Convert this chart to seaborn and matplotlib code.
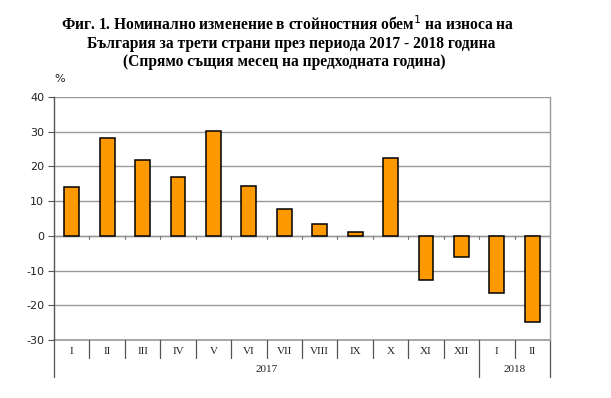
import matplotlib
matplotlib.use("Agg")
import matplotlib.pyplot as plt
import matplotlib.transforms as mtransforms
import seaborn as sns
import pandas as pd

months = ["I", "II", "III", "IV", "V", "VI", "VII", "VIII", "IX", "X", "XI", "XII", "I", "II"]
years = ["2017"] * 12 + ["2018"] * 2
values = [14.0, 28.1, 21.8, 16.9, 30.2, 14.3, 7.8, 3.3, 1.2, 22.5, -12.7, -6.2, -16.4, -24.8]
yticks = [-30, -20, -10, 0, 10, 20, 30, 40]

sns.set_theme(style="white")
plt.rcParams["font.family"] = ["DejaVu Sans"]

df = pd.DataFrame({"key": [f"{y}-{m}" for y, m in zip(years, months)], "value": values})

fig = plt.figure(figsize=(6.11, 3.98), dpi=100)
ax = fig.add_axes([54 / 611, 1 - 340 / 398, (550 - 54) / 611, (340 - 97) / 398])

sns.barplot(data=df, x="key", y="value", color="#FF9900", edgecolor="black",
            linewidth=1.1, width=0.42, saturation=1, ax=ax, zorder=3)

ax.set_xlim(-0.5, len(values) - 0.5)
ax.set_ylim(-30, 40)
ax.set_yticks(yticks)
ax.set_yticklabels([str(t) for t in yticks], fontsize=8, color="#222222")
ax.yaxis.grid(True, color="#999999", linewidth=1.0, zorder=0)
ax.axhline(0, color="#999999", linewidth=1.0, zorder=1)
ax.axhline(-30, color="#999999", linewidth=1.2, zorder=1, clip_on=False)
ax.set_xticks([])
ax.set_xlabel("")
ax.set_ylabel("")
ax.tick_params(axis="y", length=4, width=0.8, color="#555555", direction="out", left=True, pad=3)

for side in ["top", "bottom"]:
    ax.spines[side].set_visible(False)
ax.spines["left"].set_color("#555555")
ax.spines["right"].set_color("#999999")
ax.spines["left"].set_linewidth(1.0)
ax.spines["right"].set_linewidth(1.0)

# zero-line ticks at category boundaries
for i in range(1, len(values)):
    ax.plot([i - 0.5, i - 0.5], [0, -0.9], color="#777777", lw=0.8, zorder=2)

trans = mtransforms.blended_transform_factory(ax.transData, ax.transAxes)
h = 243.0
month_end = -18 / h
year_end = -37 / h
# separators
for i in range(len(values) + 1):
    x = i - 0.5
    full = i in (0, 12, len(values))
    ax.plot([x, x], [0, year_end if full else month_end], color="#555555", lw=0.9,
            transform=trans, clip_on=False)

for i, m in enumerate(months):
    ax.text(i, -12 / h, m, transform=trans, ha="center", va="center",
            fontsize=8, family="Liberation Serif", color="#222222")

ax.text(5.5, -30 / h, "2017", transform=trans, ha="center", va="center",
        fontsize=8, family="Liberation Serif", color="#222222")
ax.text(12.5, -30 / h, "2018", transform=trans, ha="center", va="center",
        fontsize=8, family="Liberation Serif", color="#222222")

title_kw = dict(ha="center", va="baseline", fontsize=11.2, fontweight="bold",
                family="Liberation Serif", color="black")
fig.text(288 / 611, 1 - 30.5 / 398,
         "Фиг. 1. Номинално изменение в стойностния обем$^{1}$ на износа на", **title_kw)
fig.text(291 / 611, 1 - 48.5 / 398,
         "България за трети страни през периода 2017 - 2018 година", **title_kw)
fig.text(284 / 611, 1 - 66.5 / 398,
         "(Спрямо същия месец на предходната година)", **title_kw)
fig.text(60 / 611, 1 - 79 / 398, "%", ha="center", va="center", fontsize=8, color="#222222")

fig.savefig("out.png", dpi=100, facecolor="white")
